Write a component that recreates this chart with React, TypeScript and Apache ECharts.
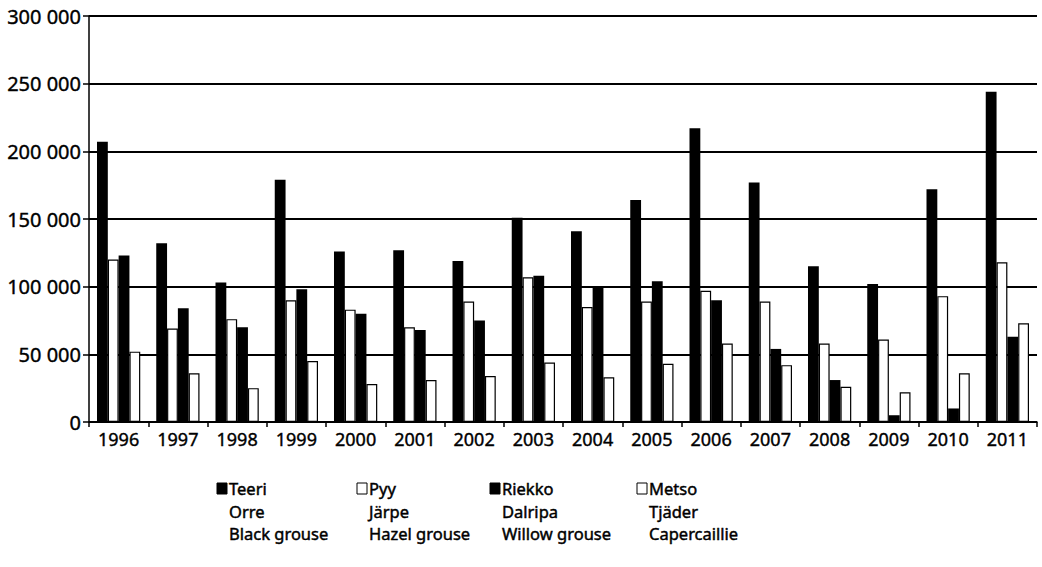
import React, { useEffect, useRef } from "react";
import * as echarts from "echarts";

const years = ["1996","1997","1998","1999","2000","2001","2002","2003","2004","2005","2006","2007","2008","2009","2010","2011"];
const teeri = [207000,132000,103000,179000,126000,127000,119000,151000,141000,164000,217000,177000,115000,102000,172000,244000];
const pyy = [120000,69000,76000,90000,83000,70000,89000,107000,85000,89000,97000,89000,58000,61000,93000,118000];
const riekko = [123000,84000,70000,98000,80000,68000,75000,108000,100000,104000,90000,54000,31000,5000,10000,63000];
const metso = [52000,36000,25000,45000,28000,31000,34000,44000,33000,43000,58000,42000,26000,22000,36000,73000];

const namesFi = ["Teeri","Pyy","Riekko","Metso"];
const namesSv = ["Orre","Järpe","Dalripa","Tjäder"];
const namesEn = ["Black grouse","Hazel grouse","Willow grouse","Capercaillie"];
const fills = ["#000000","#ffffff","#000000","#ffffff"];

const FONT = "'Noto Sans', 'Open Sans', sans-serif";

export default function App() {
  const ref = useRef<HTMLDivElement>(null);
  useEffect(() => {
    document.body.style.margin = "0";
    const chart = echarts.init(ref.current!, null, { renderer: "svg" });
    const seriesData = [teeri, pyy, riekko, metso];
    const legendX = [217, 357, 490, 637];
    const legendGraphics: any[] = [];
    namesFi.forEach((n, i) => {
      legendGraphics.push({
        type: "rect",
        shape: { x: legendX[i], y: 483, width: 10, height: 11 },
        style: { fill: fills[i], stroke: "#000", lineWidth: 1 },
      });
      [namesFi[i], namesSv[i], namesEn[i]].forEach((t, k) => {
        legendGraphics.push({
          type: "text",
          x: legendX[i] + 12,
          y: 488.5 + k * 22.5,
          style: {
            text: t, fill: "#000", font: `16.5px ${FONT}`, textVerticalAlign: "middle",
            stroke: "#000", lineWidth: 0.45,
          },
        });
      });
    });
    chart.setOption({
      animation: false,
      backgroundColor: "#fff",
      grid: { left: 89, right: 5, top: 16, bottom: 145 },
      xAxis: {
        type: "category",
        data: years,
        axisLine: { lineStyle: { color: "#000", width: 1.5 } },
        axisTick: { show: true, alignWithLabel: false, length: 5, lineStyle: { color: "#000", width: 1.5 } },
        axisLabel: {
          color: "#000", fontFamily: FONT, fontSize: 18, margin: 8, interval: 0,
          textBorderColor: "#000", textBorderWidth: 0.4,
        },
      },
      yAxis: {
        type: "value",
        min: 0,
        max: 300000,
        interval: 50000,
        axisLine: { show: true, lineStyle: { color: "#000", width: 1.5 } },
        axisTick: { show: true, length: 6, lineStyle: { color: "#000", width: 1.5 } },
        axisLabel: {
          color: "#000", fontFamily: FONT, fontSize: 20, margin: 8,
          textBorderColor: "#000", textBorderWidth: 0.4,
          formatter: (v: number) => String(v).replace(/\B(?=(\d{3})+(?!\d))/g, " "),
        },
        splitLine: { show: true, lineStyle: { color: "#000", width: 2 } },
      },
      series: namesFi.map((n, i) => ({
        name: n,
        type: "bar",
        data: seriesData[i],
        barGap: "0%",
        barCategoryGap: "27%",
        itemStyle: { color: fills[i], borderColor: "#000", borderWidth: i % 2 === 1 ? 1.2 : 0 },
      })),
      graphic: legendGraphics,
    });
    return () => chart.dispose();
  }, []);
  return <div ref={ref} style={{ width: 1042, height: 567 }} />;
}
